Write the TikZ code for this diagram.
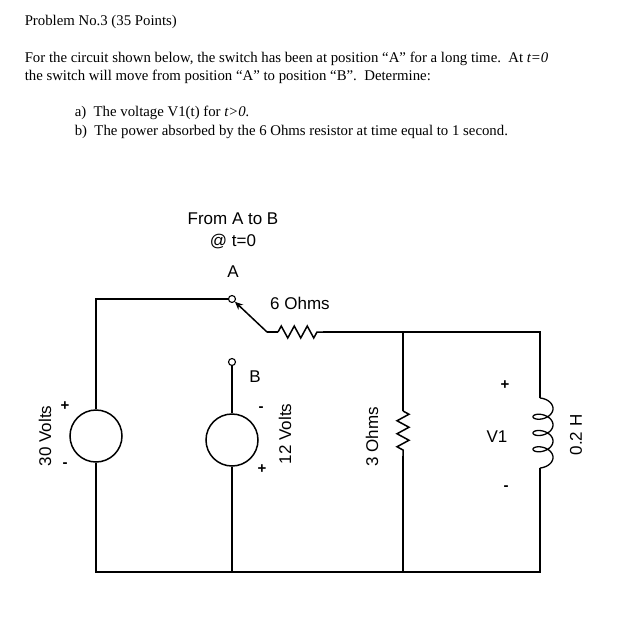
\documentclass[tikz,border=0pt]{standalone}
\usepackage{fontspec}
\setmainfont{Liberation Serif}
\newfontfamily\arial{Liberation Sans}
\usetikzlibrary{decorations.pathmorphing,arrows.meta}
\begin{document}
\begin{tikzpicture}[x=1pt,y=-1pt,line width=1.5pt,
  txt/.style={anchor=base west,inner sep=0,font=\fontsize{14.8}{18}\selectfont},
  lab/.style={inner sep=0,font=\arial\fontsize{17}{20}\selectfont},
  pm/.style={inner sep=0,font=\arial\bfseries\fontsize{15}{18}\selectfont},
  src/.style={draw,circle,minimum size=52pt,inner sep=0},
  term/.style={draw,circle,fill=white,minimum size=7pt,inner sep=0,line width=1.1pt},
  zig/.style={decorate,decoration={zigzag,segment length=13pt,amplitude=6pt}}]
\useasboundingbox (0,0) rectangle (633,643);
\node[txt] (t1) at (24,25) {Problem No.3 (35 Points)};
\node[txt] (t2) at (24,62) {For the circuit shown below, the switch has been at position “A” for a long time.\ \ At \textit{t=0}};
\node[txt] (t3) at (24,80) {the switch will move from position “A” to position “B”.\ \ Determine:};
\node[txt] (t4) at (74,116) {a)\ \ The voltage V1(t) for \textit{t>0.}};
\node[txt] (t5) at (74,135) {b)\ \ The power absorbed by the 6 Ohms resistor at time equal to 1 second.};
\node[lab] (h1) at (233,219) {From A to B};
\node[lab] (h2) at (233,242) {@ t=0};
\node[lab] (hA) at (233,272) {A};
% nodes
\coordinate (tl) at (96,299);
\coordinate (bl) at (96,572);
\node[src] (s1) at (96,436) {};
\node[src] (s2) at (232,440) {};
\coordinate (b2) at (232,572);
\coordinate (sw) at (267,332);
\coordinate (r1a) at (278,332);
\coordinate (r1b) at (323,332);
\coordinate (j1) at (403,332);
\coordinate (j1b) at (403,572);
\coordinate (r2a) at (403,411);
\coordinate (r2b) at (403,456);
\coordinate (tr) at (540,332);
\coordinate (br) at (540,572);
\coordinate (la) at (540,398);
\coordinate (lb) at (540,468);
% wires
\draw (s1) -- (tl) -- (232,299);
\draw (s1) -- (bl) -- (br) -- (lb);
\node[term] (A) at (232,299) {};
\node[term] (B) at (232,362) {};
\draw (B) -- (s2);
\draw (s2) -- (b2);
\draw[-{Stealth[length=8pt,width=7pt]}] (sw) -- (A);
\draw (sw) -- (r1a);
\draw[zig] (r1a) -- (r1b);
\draw (r1b) -- (j1) -- (tr) -- (la);
\draw[line width=1.3pt] plot[smooth,domain=1.266:23.867,samples=180,variable=\t]
  ({543-10*cos(deg(\t))},{400.45+2.59*\t-6*sin(deg(\t))});
\draw (j1) -- (r2a);
\draw[zig] (r2a) -- (r2b);
\draw (r2b) -- (j1b);
% labels
\node[lab] (l6) at (300,303) {6 Ohms};
\node[lab,rotate=90] (l30) at (45,436) {30 Volts};
\node[pm] (p1) at (65,406) {+};
\node[pm] (m1) at (65,465) {-};
\node[lab] (lB) at (255,377) {B};
\node[lab,rotate=90] (l12) at (285,434) {12 Volts};
\node[pm] (m2) at (261,409) {-};
\node[pm] (p2) at (262,469) {+};
\node[lab,rotate=90] (l3) at (372,437) {3 Ohms};
\node[lab] (V1) at (497,437) {V1};
\node[pm] (p3) at (505,385) {+};
\node[pm] (m3) at (506,488) {-};
\node[lab,rotate=90] (lH) at (576,435) {0.2 H};
\end{tikzpicture}
\end{document}
